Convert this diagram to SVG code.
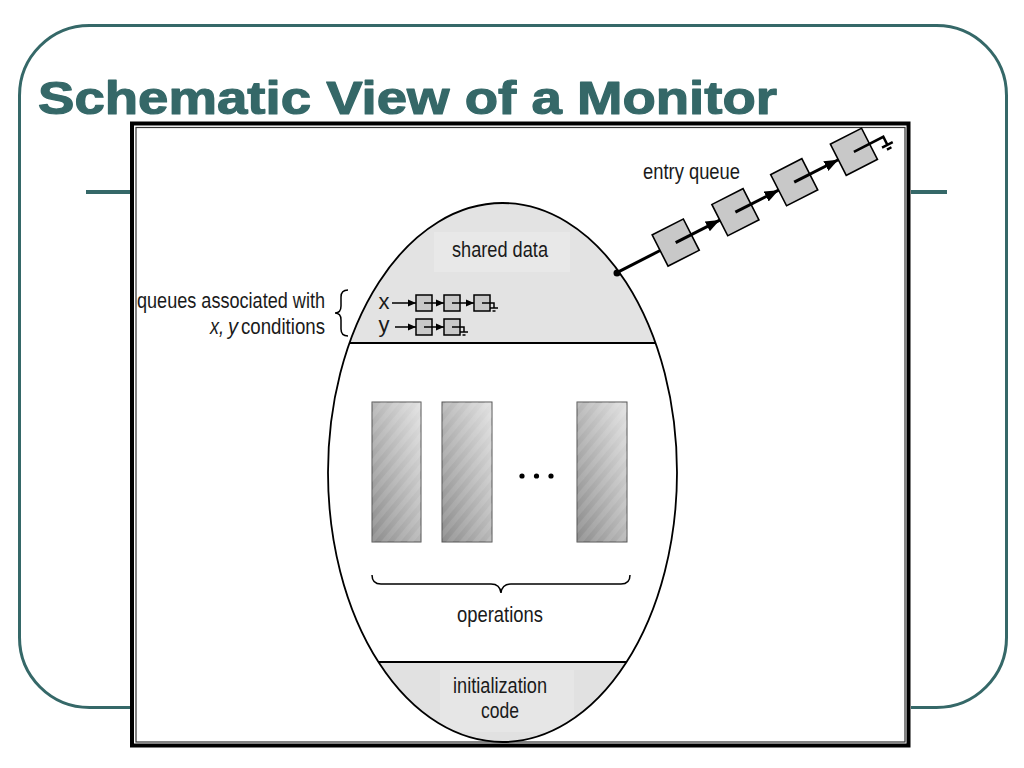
<svg xmlns="http://www.w3.org/2000/svg" width="1024" height="768" viewBox="0 0 1024 768">
<style>
.teal{stroke:#356868;fill:none}
.lbl{font-family:"Liberation Sans",Arial,sans-serif;font-size:22px;fill:#1a1a1a}
.it{font-style:italic}
.ln{stroke:#000;fill:none;stroke-width:1.5}
.qbox{fill:#c8c8c8;stroke:#000;stroke-width:1.5}
.ebox{fill:#c8c8c8;stroke:#000;stroke-width:1.6}
.op{fill:url(#opg);stroke:#555;stroke-width:1}
</style>
<defs>
<linearGradient id="opg" x1="1" y1="0" x2="0" y2="1">
<stop offset="0" stop-color="#e2e2e2"/>
<stop offset="1" stop-color="#8c8c8c"/>
</linearGradient>
<pattern id="stripes" width="10" height="10" patternUnits="userSpaceOnUse" patternTransform="rotate(40)">
<rect width="5" height="10" fill="#fff" opacity="0.1"/>
</pattern>
<marker id="sa" markerUnits="userSpaceOnUse" markerWidth="9" markerHeight="8" refX="8" refY="4" orient="auto">
<path d="M0,0.5 L8,4 L0,7.5 z" fill="#000"/>
</marker>
<marker id="ba" markerUnits="userSpaceOnUse" markerWidth="15" markerHeight="12" refX="14" refY="6" orient="auto">
<path d="M0,0.5 L14,6 L0,11.5 z" fill="#000"/>
</marker>
<clipPath id="ellc">
<ellipse cx="502.5" cy="472.5" rx="174.5" ry="269.5"/>
</clipPath>
</defs>

<g id="slide-frame">
<rect x="19.5" y="25.5" width="987" height="682" rx="70" ry="70" class="teal" stroke-width="3" fill="#fff"/>
<line x1="86" y1="192" x2="134" y2="192" class="teal" stroke-width="4"/>
<line x1="906" y1="192" x2="947" y2="192" class="teal" stroke-width="4"/>
</g>

<g id="title">
<text x="38" y="114" font-family="'Liberation Sans',Arial,sans-serif" font-weight="bold" font-size="47" fill="#356868" stroke="#356868" stroke-width="1.2" stroke-linejoin="round" textLength="739" lengthAdjust="spacingAndGlyphs">Schematic View of a Monitor</text>
</g>

<g id="figure-frame">
<rect x="130" y="122" width="781" height="626" fill="#fff"/>
<rect x="132" y="123.5" width="776.5" height="622" fill="none" stroke="#000" stroke-width="4"/>
<rect x="136" y="127.5" width="769" height="614.5" fill="none" stroke="#333" stroke-width="1.2"/>
</g>

<g id="monitor">
<ellipse cx="502.5" cy="472.5" rx="174.5" ry="269.5" fill="#fff"/>
<g clip-path="url(#ellc)">
<rect x="320" y="190" width="370" height="153" fill="#e3e3e3"/>
<rect x="320" y="662" width="370" height="90" fill="#e1e1e1"/>
<rect x="434" y="232" width="136" height="40" fill="#e8e8e8"/>
<rect x="440" y="670" width="134" height="62" fill="#e6e6e6"/>
<line x1="320" y1="343" x2="690" y2="343" stroke="#000" stroke-width="2"/>
<line x1="320" y1="662" x2="690" y2="662" stroke="#000" stroke-width="2"/>
</g>
<ellipse cx="502.5" cy="472.5" rx="174.5" ry="269.5" fill="none" stroke="#000" stroke-width="1.8"/>
</g>

<g id="shared-data">
<text class="lbl" x="500" y="257" text-anchor="middle" textLength="96" lengthAdjust="spacingAndGlyphs">shared data</text>
</g>

<g id="condition-queues">
<text class="lbl" x="325" y="308" text-anchor="end" textLength="188" lengthAdjust="spacingAndGlyphs">queues associated with</text>
<text class="lbl it" x="210" y="334" textLength="14" lengthAdjust="spacingAndGlyphs">x,</text>
<text class="lbl it" x="228" y="334" textLength="10" lengthAdjust="spacingAndGlyphs">y</text>
<text class="lbl" x="325" y="334" text-anchor="end" textLength="84" lengthAdjust="spacingAndGlyphs">conditions</text>
<path class="ln" d="M348,290 Q341,290 341,297 L341,306 Q341,313 335,313 Q341,313 341,320 L341,329 Q341,336 348,336"/>
<text class="lbl" x="384" y="309" text-anchor="middle">x</text>
<text class="lbl" x="384" y="332" text-anchor="middle">y</text>
<rect class="qbox" x="416" y="295" width="16" height="16"/>
<rect class="qbox" x="444" y="295" width="16" height="16"/>
<rect class="qbox" x="474" y="295" width="16" height="16"/>
<rect class="qbox" x="416" y="319" width="16" height="16"/>
<rect class="qbox" x="444" y="319" width="16" height="16"/>
</g>

<g id="operations">
<rect class="op" x="372" y="402" width="49" height="140"/>
<rect class="op" x="442" y="402" width="50" height="140"/>
<rect class="op" x="577" y="402" width="50" height="140"/>
<rect x="372" y="402" width="49" height="140" fill="url(#stripes)"/>
<rect x="442" y="402" width="50" height="140" fill="url(#stripes)"/>
<rect x="577" y="402" width="50" height="140" fill="url(#stripes)"/>
<circle cx="522" cy="476" r="2.6" fill="#000"/>
<circle cx="536.5" cy="476" r="2.6" fill="#000"/>
<circle cx="551" cy="476" r="2.6" fill="#000"/>
<path class="ln" d="M372,575 Q372,584 381,584 L491,584 Q500,584 501,593 Q502,584 511,584 L621,584 Q630,584 630,575"/>
<text class="lbl" x="500" y="622" text-anchor="middle" textLength="86" lengthAdjust="spacingAndGlyphs">operations</text>
</g>

<g id="initialization-code">
<text class="lbl" x="500" y="693" text-anchor="middle" textLength="94" lengthAdjust="spacingAndGlyphs">initialization</text>
<text class="lbl" x="500" y="718" text-anchor="middle" textLength="38" lengthAdjust="spacingAndGlyphs">code</text>
</g>

<g id="entry-queue">
<text class="lbl" x="643" y="179" textLength="97" lengthAdjust="spacingAndGlyphs">entry queue</text>
<g transform="translate(616,273) rotate(-27)">
<rect class="ebox" x="49.5" y="-17.5" width="35" height="35"/>
<rect class="ebox" x="116.5" y="-17.5" width="35" height="35"/>
<rect class="ebox" x="182.5" y="-17.5" width="35" height="35"/>
<rect class="ebox" x="249.5" y="-17.5" width="35" height="35"/>
</g>
</g>

<g id="connectors">
<line x1="392" y1="303" x2="416" y2="303" class="ln" marker-end="url(#sa)"/>
<line x1="424" y1="303" x2="444" y2="303" class="ln" marker-end="url(#sa)"/>
<line x1="452" y1="303" x2="474" y2="303" class="ln" marker-end="url(#sa)"/>
<path class="ln" d="M482,303 H494 V308 M490,308 H498 M492.5,311 H495.5"/>
<line x1="395" y1="327" x2="416" y2="327" class="ln" marker-end="url(#sa)"/>
<line x1="424" y1="327" x2="444" y2="327" class="ln" marker-end="url(#sa)"/>
<path class="ln" d="M452,327 H464 V332 M460,332 H468 M462.5,335 H465.5"/>
<circle cx="617" cy="273" r="3.5" fill="#000"/>
<g transform="translate(616,273) rotate(-27)">
<line x1="1" y1="0" x2="49.5" y2="0" stroke="#000" stroke-width="3"/>
<line x1="67" y1="0" x2="116.5" y2="0" stroke="#000" stroke-width="3" marker-end="url(#ba)"/>
<line x1="134" y1="0" x2="182.5" y2="0" stroke="#000" stroke-width="3" marker-end="url(#ba)"/>
<line x1="200" y1="0" x2="249.5" y2="0" stroke="#000" stroke-width="3" marker-end="url(#ba)"/>
<path d="M267,0 H300 V9 M294,9 H306 M297.5,13 H302.5" fill="none" stroke="#000" stroke-width="2.5"/>
</g>
</g>
</svg>
